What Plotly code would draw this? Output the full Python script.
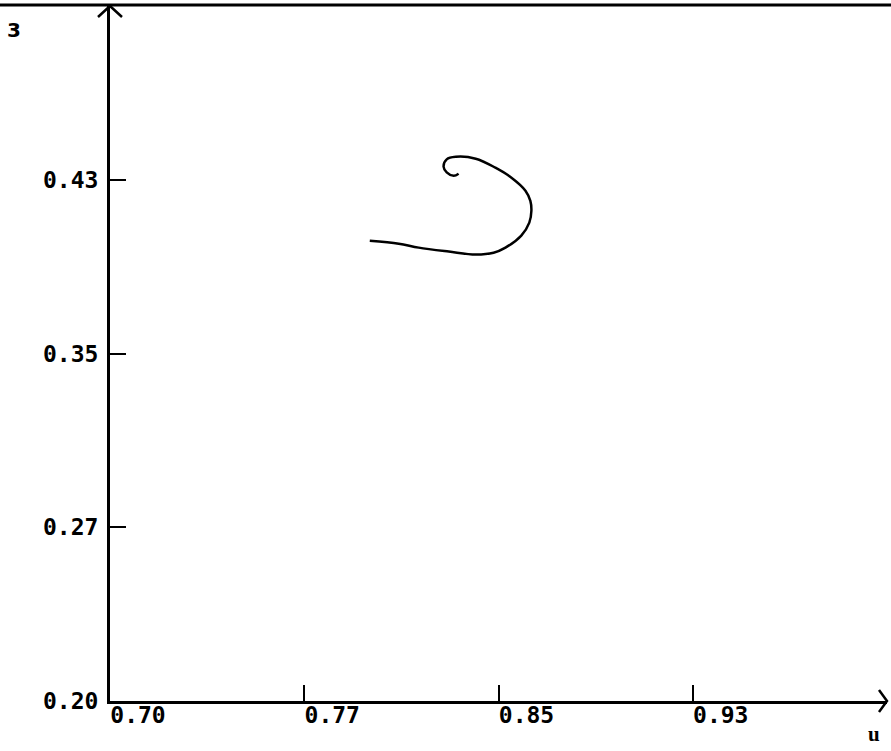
import plotly.graph_objects as go

# phase trajectory
u_vals = [0.8003, 0.8115, 0.8192, 0.8308, 0.8412, 0.8481, 0.8527, 0.8588, 0.8619,
          0.8627, 0.8623, 0.8604, 0.8550, 0.8488, 0.8412, 0.8335, 0.8300, 0.8288,
          0.8300, 0.8327, 0.8346]
z_vals = [0.3987, 0.3974, 0.3957, 0.3940, 0.3927, 0.3935, 0.3957, 0.4009, 0.4065,
          0.4116, 0.4159, 0.4203, 0.4259, 0.4302, 0.4341, 0.4349, 0.4338, 0.4306,
          0.4282, 0.4267, 0.4276]

x_tickvals = [0.70, 0.775, 0.85, 0.925]
x_ticktext = ["0.70", "0.77", "0.85", "0.93"]
y_tickvals = [0.20, 0.275, 0.35, 0.425]
y_ticktext = ["0.20", "0.27", "0.35", "0.43"]

tickfont = dict(family="DejaVu Sans Mono", size=23, color="black", weight="bold")

fig = go.Figure(go.Scatter(x=u_vals, y=z_vals, mode="lines",
                           line=dict(color="black", width=2.5, shape="spline"),
                           hoverinfo="skip"))

axis_common = dict(showgrid=False, zeroline=False, showline=True, linecolor="black",
                   linewidth=3, ticks="inside", ticklen=16, tickwidth=2,
                   tickcolor="black", tickfont=tickfont, fixedrange=True)

fig.update_layout(
    width=891, height=751,
    margin=dict(l=110, r=4, t=6, b=50),
    plot_bgcolor="white", paper_bgcolor="white",
    showlegend=False,
    xaxis=dict(range=[0.70, 1.0], tickvals=x_tickvals, ticktext=x_ticktext,
               ticklabelshift=28, ticklabelstandoff=-9, **axis_common),
    yaxis=dict(range=[0.20, 0.50], tickvals=y_tickvals, ticktext=y_ticktext,
               ticklabelstandoff=4, **axis_common),
    shapes=[
        # x axis arrow head
        dict(type="path", xref="paper", yref="paper", xsizemode="pixel", ysizemode="pixel",
             xanchor=1, yanchor=0, path="M -8,11 L 0,0 L -8,-11",
             line=dict(color="black", width=2.5)),
        # y axis arrow head
        dict(type="path", xref="paper", yref="paper", xsizemode="pixel", ysizemode="pixel",
             xanchor=0, yanchor=1, path="M -12,-11 L 0,0 L 12,-11",
             line=dict(color="black", width=2.5)),
        # top border line
        dict(type="line", xref="paper", yref="paper", ysizemode="pixel", yanchor=1,
             x0=-0.15, x1=1.01, y0=1, y1=1, line=dict(color="black", width=3)),
    ],
    annotations=[
        dict(text="3", xref="paper", yref="paper", x=-0.1235, y=0.9655,
             xanchor="center", yanchor="middle",
             showarrow=False, font=dict(family="DejaVu Sans", size=20, color="black", weight="bold")),
        dict(text="u", xref="paper", yref="paper", x=0.9833, y=-0.0475,
             xanchor="center", yanchor="middle",
             showarrow=False, font=dict(family="Liberation Serif", size=21, color="black", weight="bold")),
    ],
)

fig.write_html("out.html", config={"displayModeBar": False},
               post_script="document.body.style.margin='0';document.body.style.overflow='hidden';")
